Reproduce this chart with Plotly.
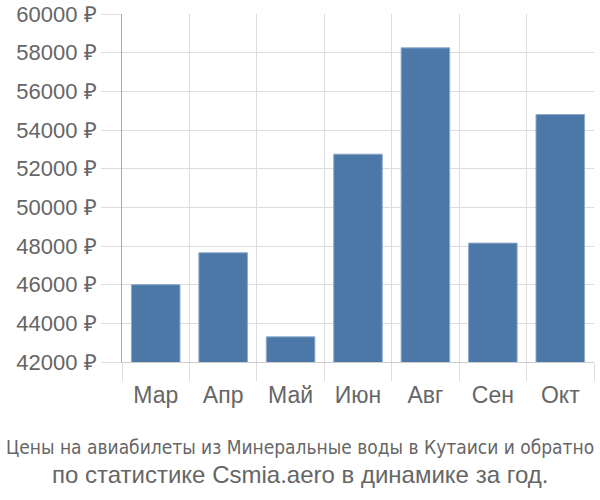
import plotly.graph_objects as go

months = ["Мар", "Апр", "Май", "Июн", "Авг", "Сен", "Окт"]
prices = [46000, 47650, 43300, 52750, 58250, 48150, 54800]
y_ticks = list(range(42000, 60001, 2000))
title_line1 = "Цены на авиабилеты из Минеральные воды в Кутаиси и обратно"
title_line2 = "по статистике Csmia.aero в динамике за год."

fig = go.Figure(go.Bar(
    x=months, y=prices,
    marker=dict(color="#4c78a8", line=dict(color="#8fa9cc", width=1)),
    width=0.72,
))

fig.update_layout(
    width=600, height=500,
    margin=dict(l=122, r=6, t=14, b=138),
    paper_bgcolor="white", plot_bgcolor="white",
    font=dict(family="Liberation Sans, Arial, sans-serif", color="#666666", size=22),
    showlegend=False,
)
fig.update_xaxes(
    type="category", tickson="boundaries", showgrid=True, gridcolor="#dddddd", gridwidth=1,
    ticks="outside", ticklen=18, tickcolor="#dddddd", tickwidth=1,
    showline=True, linecolor="#cccccc", linewidth=1, automargin=False,
    tickfont=dict(size=23, color="#666666"), ticklabelstandoff=12,
)
fig.update_yaxes(
    range=[42000, 60000], tickvals=y_ticks, ticktext=[f"{v} ₽" for v in y_ticks],
    showgrid=True, gridcolor="#dddddd", gridwidth=1,
    ticks="outside", ticklen=20, tickcolor="#dddddd", automargin=False,
    showline=True, linecolor="#aaaaaa", linewidth=1,
    tickfont=dict(size=22, color="#666666"), zeroline=False,
)
ph = 500 - 14 - 138
pw = 600 - 122 - 6
fig.add_annotation(text=title_line1, x=(300 - 122) / pw, xref="paper", y=(362 - 447) / ph, yref="paper",
                   yanchor="middle", showarrow=False,
                   font=dict(family="DejaVu Sans Condensed", size=19, color="#666666"))
fig.add_annotation(text=title_line2, x=(300 - 122) / pw, xref="paper", y=(362 - 474) / ph, yref="paper",
                   yanchor="middle", showarrow=False, font=dict(size=24, color="#666666"))
fig.write_html("out.html")
